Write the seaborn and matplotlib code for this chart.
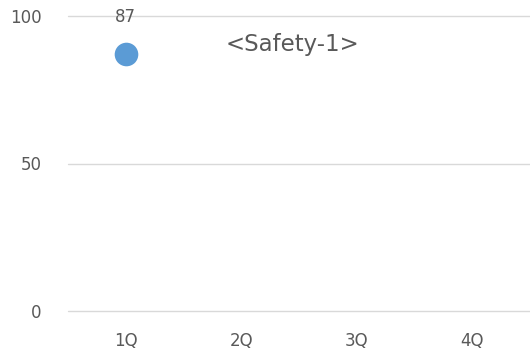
import matplotlib
matplotlib.use("Agg")
import matplotlib.pyplot as plt
import seaborn as sns
import pandas as pd
import numpy as np

quarters = ["1Q", "2Q", "3Q", "4Q"]
values = [87, np.nan, np.nan, np.nan]
title = "<Safety-1>"
yticks = [0, 50, 100]

sns.set_theme(style="white")
plt.rcParams['font.family'] = ['DejaVu Sans']
text_color = "#595959"

df = pd.DataFrame({"quarter": quarters, "value": values}).dropna()

fig = plt.figure(figsize=(5.3, 3.5), dpi=100)
ax = fig.add_axes([68/530, 1-311/350, 1-68/530, (311-16)/350])

sns.stripplot(data=df, x="quarter", y="value", order=quarters, ax=ax,
              color="#5B9BD5", size=17, jitter=False, linewidth=0, zorder=3)

for q, v in zip(quarters, values):
    if not np.isnan(v):
        ax.annotate(f"{v:g}", xy=(quarters.index(q), v), xytext=(0, 27),
                    textcoords="offset points", ha="center", va="center",
                    fontsize=12, color=text_color, zorder=4)

ax.set_xlim(-0.5, 3.5)
ax.set_ylim(0, 100)
ax.set_yticks(yticks)
ax.yaxis.grid(True, color="#D9D9D9", linewidth=1)
for gl in ax.get_ygridlines():
    gl.set_clip_on(False)
ax.set_axisbelow(True)
for s in ax.spines.values():
    s.set_visible(False)
ax.tick_params(axis="both", length=0, colors=text_color, labelsize=12)
ax.tick_params(axis="y", pad=19)
ax.tick_params(axis="x", pad=15)
ax.set_xlabel("")
ax.set_ylabel("")
ax.text(1.44, 90.2, title, ha="center", va="center", fontsize=16.5, color=text_color)

fig.savefig("out.png", dpi=100)
